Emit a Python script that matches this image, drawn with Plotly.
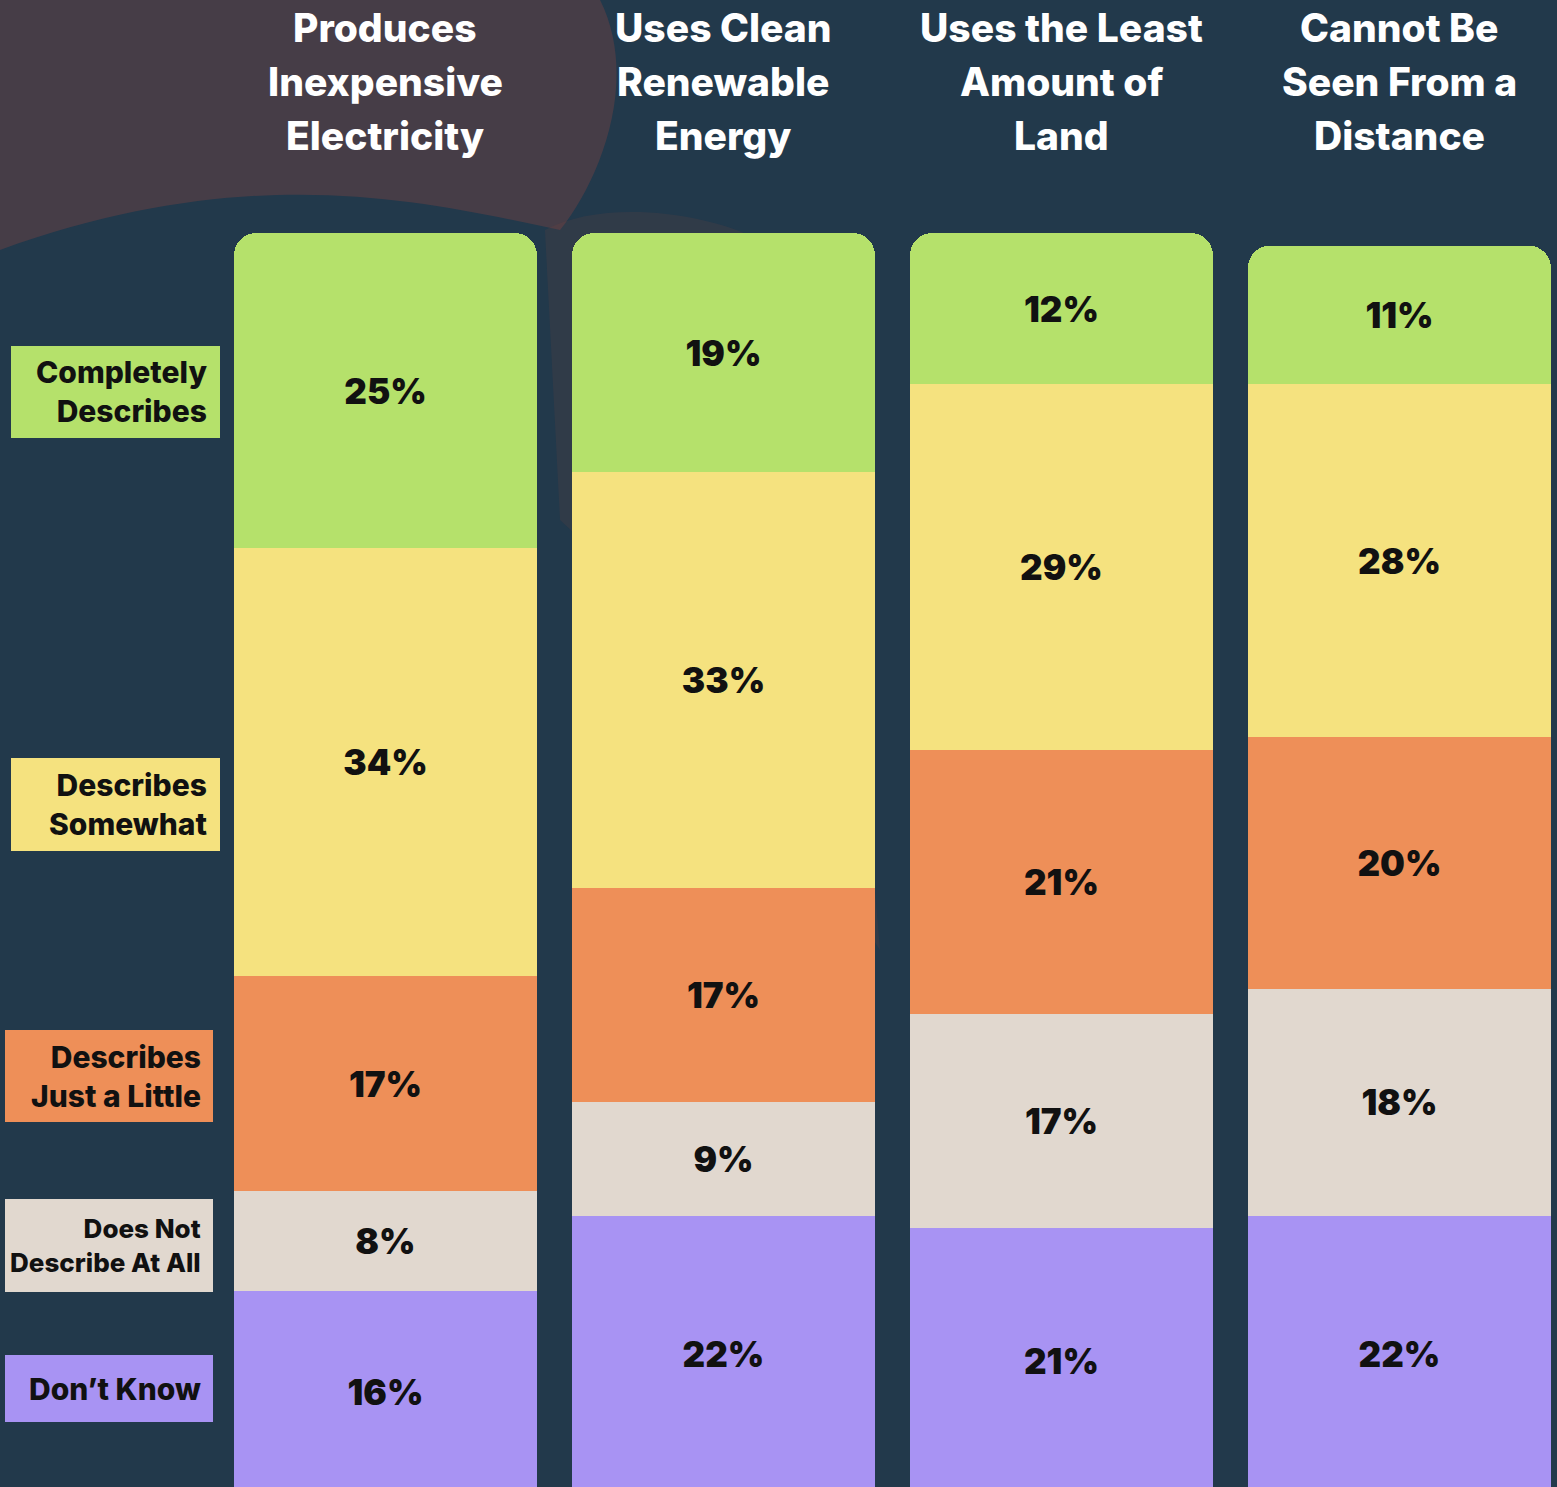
import plotly.graph_objects as go

W, H = 1557, 1487

# ---------------- data ----------------
categories = [
    "Produces\nInexpensive\nElectricity",
    "Uses Clean\nRenewable\nEnergy",
    "Uses the Least\nAmount of\nLand",
    "Cannot Be\nSeen From a\nDistance",
]
dont_know = [16, 22, 21, 22]
does_not = [8, 9, 17, 18]
just_a_little = [17, 17, 21, 20]
somewhat = [34, 33, 29, 28]
completely = [25, 19, 12, 11]

series_names = ["Don’t Know", "Does Not\nDescribe At All", "Describes\nJust a Little",
                "Describes\nSomewhat", "Completely\nDescribes"]
series_values = [dont_know, does_not, just_a_little, somewhat, completely]
series_colors = ["#a893f3", "#e1d8cf", "#ee8f58", "#f5e27f", "#b5e16b"]

FONT = "Inter"

fig = go.Figure()
xs = list(range(len(categories)))
for name, vals, col in zip(series_names, series_values, series_colors):
    fig.add_trace(go.Bar(
        x=xs, y=vals, name=name.replace("\n", " "),
        marker=dict(color=col, line=dict(width=0)),
        width=0.896,
        texttemplate="%{y}%",
        textposition="inside",
        insidetextanchor="middle",
        textangle=0,
        textfont=dict(family=FONT, size=35, color="#111111", weight=900),
        hoverinfo="skip",
        showlegend=False,
    ))


def px(x):
    return x / W


def py(y):
    return 1 - y / H


# subtle background streaks (decorative texture approximation)
streaks = [
    ("M 0,0 L 600,0 C 640,80 600,180 560,230 C 420,200 250,160 0,250 Z", "rgba(175,75,60,0.26)"),
    ("M 545,230 C 600,200 700,210 760,240 C 820,400 860,700 880,950 C 780,800 650,600 560,520 Z", "rgba(160,70,60,0.12)"),
]
for path_px, col in streaks:
    toks = path_px.replace(",", " , ").split()
    out = []
    nums = []
    for t in toks:
        if t in ("M", "L", "C", "Z"):
            out.append(t)
        elif t == ",":
            continue
        else:
            nums.append(float(t))
            if len(nums) == 2:
                out.append(f"{px(nums[0]):.4f},{py(nums[1]):.4f}")
                nums = []
    fig.add_shape(type="path", path=" ".join(out), xref="paper", yref="paper",
                  fillcolor=col, line=dict(width=0), layer="below")

# header annotations (one per line for exact line spacing)
line_y = [27, 81, 135]
for i, cat in enumerate(categories):
    for j, line in enumerate(cat.split("\n")):
        fig.add_annotation(
            x=i, xref="x", y=py(line_y[j]), yref="paper",
            text=line, showarrow=False, xanchor="center", yanchor="middle",
            font=dict(family=FONT, size=39, color="white", weight=800),
        )

# legend boxes (left side)
legend_boxes = [
    # (x0, y0, x1, y1, text_right, font_size)
    (11, 346, 220, 438, 207, 30),
    (11, 758, 220, 851, 207, 30),
    (5, 1030, 213, 1122, 201, 30),
    (5, 1199, 213, 1292, 201, 26),
    (5, 1355, 213, 1422, 201, 30),
]
legend_order = [4, 3, 2, 1, 0]
for (x0, y0, x1, y1, xr, fs), k in zip(legend_boxes, legend_order):
    fig.add_shape(type="rect", xref="paper", yref="paper",
                  x0=px(x0), x1=px(x1), y0=py(y1), y1=py(y0),
                  fillcolor=series_colors[k], line=dict(width=0))
    fig.add_annotation(
        x=px(xr + 2), xref="paper", y=py((y0 + y1) / 2), yref="paper",
        text=series_names[k].replace("\n", "<br>"), showarrow=False,
        xanchor="right", yanchor="middle", align="right",
        font=dict(family=FONT, size=fs, color="#111111", weight=800),
    )

fig.update_layout(
    width=W, height=H,
    margin=dict(l=0, r=0, t=0, b=0),
    paper_bgcolor="#22394b",
    plot_bgcolor="rgba(0,0,0,0)",
    barmode="stack",
    barcornerradius=22,
    xaxis=dict(range=[-1.1405, 3.466], visible=False, fixedrange=True),
    yaxis=dict(range=[0.48, 118.5], visible=False, fixedrange=True),
)

fig.write_html("out.html", config={"displayModeBar": False},
               post_script="document.body.style.margin='0px';")
